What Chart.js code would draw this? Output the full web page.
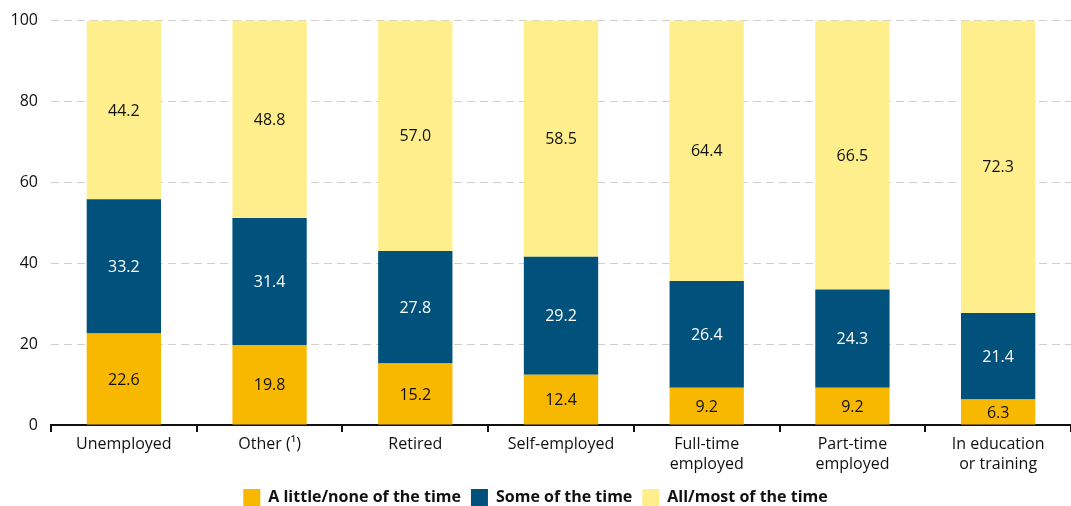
<!DOCTYPE html>
<html><head><meta charset="utf-8">
<script src="https://cdn.jsdelivr.net/npm/chart.js@4.4.1/dist/chart.umd.min.js"></script>
<style>html,body{margin:0;padding:0;background:#fff;overflow:hidden}#wrap{width:1071px;height:518px;margin-top:-2px}</style>
</head><body><div id="wrap"><canvas id="c"></canvas></div>
<script>
const categories = ['Unemployed', 'Other (\u00B9)', 'Retired', 'Self-employed', ['Full-time','employed'], ['Part-time','employed'], ['In education','or training']];
const littleNone = [22.6, 19.8, 15.2, 12.4, 9.2, 9.2, 6.3];
const someTime = [33.2, 31.4, 27.8, 29.2, 26.4, 24.3, 21.4];
const allMost = [44.2, 48.8, 57.0, 58.5, 64.4, 66.5, 72.3];
const seriesNames = ['A little/none of the time', 'Some of the time', 'All/most of the time'];
const yTicks = [0, 20, 40, 60, 80, 100];

const FONT = "'Open Sans', sans-serif";
const colors = ['#F9B800', '#00527D', '#FFEF8C'];
const labelColors = ['#111', '#fff', '#111'];

const labelPlugin = {
  id: 'segLabels',
  afterDatasetsDraw(chart) {
    const ctx = chart.ctx;
    ctx.save();
    ctx.font = '16px ' + FONT;
    ctx.textAlign = 'center';
    ctx.textBaseline = 'middle';
    chart.data.datasets.forEach((ds, di) => {
      const meta = chart.getDatasetMeta(di);
      meta.data.forEach((bar, i) => {
        const cy = (bar.y + bar.base) / 2;
        ctx.fillStyle = labelColors[di];
        ctx.fillText(ds.data[i].toFixed(1), bar.x, cy + 1);
      });
    });
    ctx.restore();
  }
};

new Chart(document.getElementById('c'), {
  type: 'bar',
  data: {
    labels: categories,
    datasets: [littleNone, someTime, allMost].map((d, i) => ({
      label: seriesNames[i],
      data: d,
      backgroundColor: colors[i],
      borderWidth: 0,
      categoryPercentage: 1,
      barPercentage: 0.51
    }))
  },
  options: {
    responsive: true,
    maintainAspectRatio: false,
    animation: false,
    layout: { padding: { top: 6, right: 0, left: 0, bottom: 0 } },
    plugins: {
      legend: {
        position: 'bottom',
        labels: {
          font: { family: FONT, size: 16, weight: 'bold' },
          color: '#111',
          boxWidth: 17, boxHeight: 17,
          padding: 10
        }
      },
      tooltip: { enabled: false }
    },
    scales: {
      x: {
        stacked: true,
        offset: true,
        afterFit(s) { s.height = 54; },
        grid: { offset: true, drawOnChartArea: false, drawTicks: true, tickLength: 7, color: '#111', lineWidth: 2 },
        border: { display: true, color: '#111', width: 2 },
        ticks: { font: { family: FONT, size: 16, lineHeight: 1.25 }, color: '#111', maxRotation: 0, autoSkip: false, padding: 2 }
      },
      y: {
        stacked: true,
        min: 0, max: 100,
        afterBuildTicks(s) { s.ticks = yTicks.map(v => ({ value: v })); },
        afterFit(s) { s.width = 51; },
        grid: { color: '#cfcfcf', lineWidth: 1, drawTicks: false, tickLength: 0 },
        border: { display: false, dash: [8, 5] },
        ticks: { font: { family: FONT, size: 16 }, color: '#111', padding: 13 }
      }
    }
  },
  plugins: [labelPlugin]
});
</script></body></html>
